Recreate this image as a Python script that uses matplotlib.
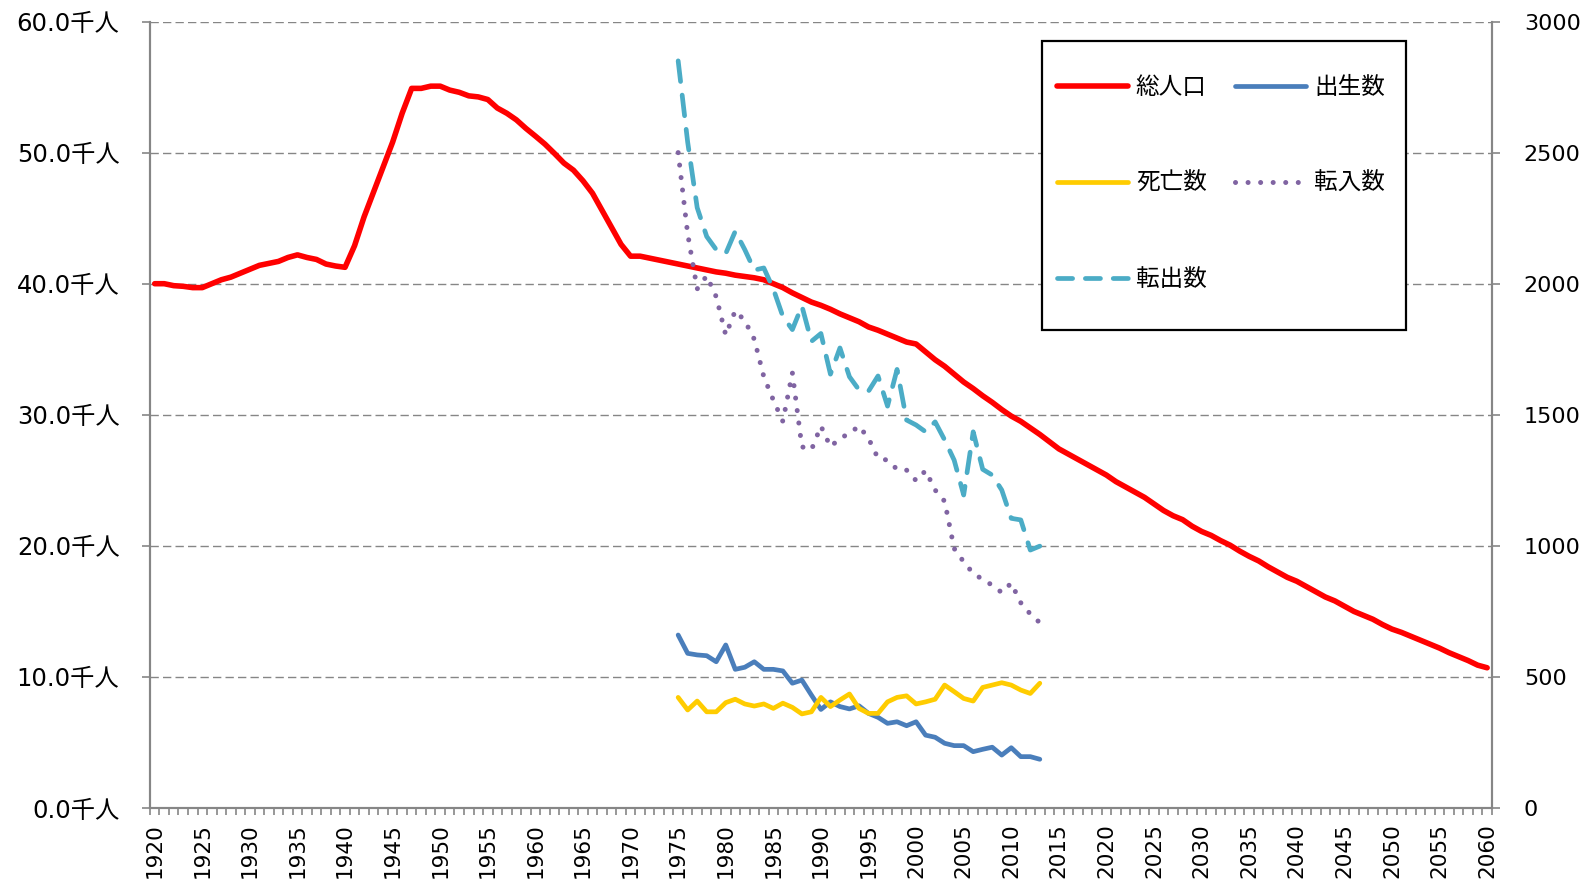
import matplotlib
matplotlib.use('Agg')
import matplotlib.pyplot as plt
from matplotlib.lines import Line2D
from matplotlib.patches import Rectangle
from matplotlib.ticker import MultipleLocator, FuncFormatter

plt.rcParams['font.family'] = ['DejaVu Sans', 'Noto Sans CJK JP']

# 総人口 (千人), 1920-2060
years = list(range(1920, 2061))
pop = [40.0, 40.0, 39.85, 39.8, 39.7, 39.7, 40.0, 40.3, 40.5, 40.8,
       41.1, 41.4, 41.55, 41.7, 42.0, 42.2, 42.0, 41.85, 41.5, 41.35,
       41.25, 42.9, 45.1, 47.0, 48.9, 50.8, 53.0, 54.9, 54.9, 55.07,
       55.07, 54.77, 54.6, 54.33, 54.25, 54.05, 53.4, 53.0, 52.5, 51.85,
       51.26, 50.65, 49.94, 49.2, 48.66, 47.85, 46.9, 45.6, 44.3, 43.0,
       42.1, 42.1, 41.95, 41.8, 41.65, 41.5, 41.35, 41.2, 41.05, 40.9,
       40.8, 40.65, 40.55, 40.45, 40.3, 40.0, 39.7, 39.3, 38.95, 38.6,
       38.35, 38.05, 37.7, 37.4, 37.1, 36.7, 36.45, 36.15, 35.85, 35.55,
       35.4, 34.8, 34.2, 33.7, 33.1, 32.5, 32.0, 31.45, 30.95, 30.4,
       29.9, 29.5, 29.0, 28.5, 27.95, 27.4, 27.0, 26.6, 26.2, 25.8,
       25.4, 24.9, 24.5, 24.1, 23.7, 23.2, 22.7, 22.3, 22.0, 21.5,
       21.1, 20.8, 20.4, 20.05, 19.6, 19.2, 18.85, 18.4, 18.0, 17.6,
       17.3, 16.9, 16.5, 16.1, 15.8, 15.4, 15.0, 14.7, 14.4, 14.0,
       13.65, 13.4, 13.1, 12.8, 12.5, 12.2, 11.85, 11.55, 11.25, 10.9, 10.7]

# 人口動態 (人), 1975-2013
mig_years = list(range(1975, 2014))
births = [660, 590, 584, 581, 558, 622, 529, 537, 558, 529,
          529, 523, 476, 488, 431, 376, 405, 387, 378, 390,
          361, 346, 323, 329, 314, 329, 278, 270, 247, 238,
          238, 215, 224, 232, 202, 230, 196, 196, 186]
deaths = [422, 374, 408, 367, 367, 402, 415, 397, 389, 397,
          380, 400, 384, 359, 367, 422, 387, 412, 435, 380,
          361, 361, 405, 422, 428, 397, 405, 415, 469, 444,
          418, 408, 460, 469, 478, 469, 450, 437, 476]
moved_in = [2500, 2190, 1980, 2030, 1950, 1804, 1897, 1859, 1788, 1645,
            1556, 1475, 1660, 1378, 1366, 1457, 1378, 1410, 1429, 1457,
            1410, 1334, 1327, 1292, 1289, 1249, 1287, 1213, 1170, 990,
            939, 895, 872, 850, 822, 858, 783, 740, 707]
moved_out = [2850, 2540, 2290, 2180, 2130, 2115, 2200, 2130, 2052, 2060,
             1980, 1875, 1825, 1915, 1780, 1810, 1655, 1755, 1645, 1595,
             1590, 1648, 1533, 1673, 1480, 1461, 1435, 1473, 1404, 1327,
             1194, 1435, 1292, 1270, 1213, 1105, 1099, 984, 999]

RED = '#FF0000'
BLUE = '#4A7EBB'
YELLOW = '#FFCC00'
PURPLE = '#8064A2'
TEAL = '#4BACC6'
GRAY = '#868686'

fig = plt.figure(figsize=(15.9, 8.86), dpi=100)
ax = fig.add_axes([0.0943, 0.0880, 0.8440, 0.8877])
ax2 = ax.twinx()

ax.plot(years, pop, color=RED, lw=4.0, solid_joinstyle='round', solid_capstyle='round', zorder=3)
ax2.plot(mig_years, births, color=BLUE, lw=3.4, solid_joinstyle='round', solid_capstyle='round')
ax2.plot(mig_years, deaths, color=YELLOW, lw=3.4, solid_joinstyle='round', solid_capstyle='round')
ax2.plot(mig_years, moved_in, color=PURPLE, lw=3.6, ls=(0, (0.01, 2.5)), dash_capstyle='round')
ax2.plot(mig_years, moved_out, color=TEAL, lw=3.4, ls=(0, (4.4, 2.9)), dash_capstyle='round',
         dash_joinstyle='round')

ax.set_xlim(1919.5, 2060.5)
ax.set_ylim(0, 60)
ax2.set_ylim(0, 3000)

ax.yaxis.set_major_locator(MultipleLocator(10))
ax.yaxis.set_major_formatter(FuncFormatter(lambda v, p: f'{v:.1f}千人'))
ax2.yaxis.set_major_locator(MultipleLocator(500))
ax.grid(axis='y', color=GRAY, ls=(0, (6, 3)), lw=1.0)
ax.set_axisbelow(True)

ax.set_xticks(range(1920, 2061, 5))
ax.set_xticks([y - 0.5 for y in range(1920, 2062)], minor=True)
ax.tick_params(axis='x', which='major', length=0, pad=11, labelrotation=90, labelsize=15.5)
ax.tick_params(axis='x', which='minor', length=5, width=1.2, color=GRAY)
ax.tick_params(axis='y', length=6, width=1.2, color=GRAY, labelsize=17.5, pad=16)
ax2.tick_params(axis='y', length=6, width=1.2, color=GRAY, labelsize=16, pad=17)

for a in (ax, ax2):
    a.spines['top'].set_visible(False)
    for s in ('left', 'right', 'bottom'):
        a.spines[s].set_color(GRAY)
        a.spines[s].set_linewidth(1.5)

# legend box
ax2.add_patch(Rectangle((0.6651, 0.6083), 0.2706, 0.3674, transform=ax2.transAxes,
                        facecolor='white', edgecolor='black', lw=1.6, zorder=4, clip_on=False))
handles = [
    Line2D([], [], color=RED, lw=4.0, solid_capstyle='round'),
    Line2D([], [], color=YELLOW, lw=3.4, solid_capstyle='round'),
    Line2D([], [], color=TEAL, lw=3.4, ls=(0, (3.2, 2.7)), dash_capstyle='round'),
    Line2D([], [], color=BLUE, lw=3.4, solid_capstyle='round'),
    Line2D([], [], color=PURPLE, lw=3.6, ls=(0, (0.01, 2.5)), dash_capstyle='round'),
]
labels = ['総人口', '死亡数', '転出数', '出生数', '転入数']
leg = ax2.legend(handles, labels, loc='upper left', bbox_to_anchor=(0.6669, 0.946), ncol=2,
                 frameon=False, borderpad=0, handlelength=3.0, handletextpad=0.35,
                 columnspacing=1.2, labelspacing=3.1,
                 prop={'family': ['Noto Sans CJK JP'], 'size': 17})
leg.set_zorder(5)

fig.savefig('out.png', dpi=100)
